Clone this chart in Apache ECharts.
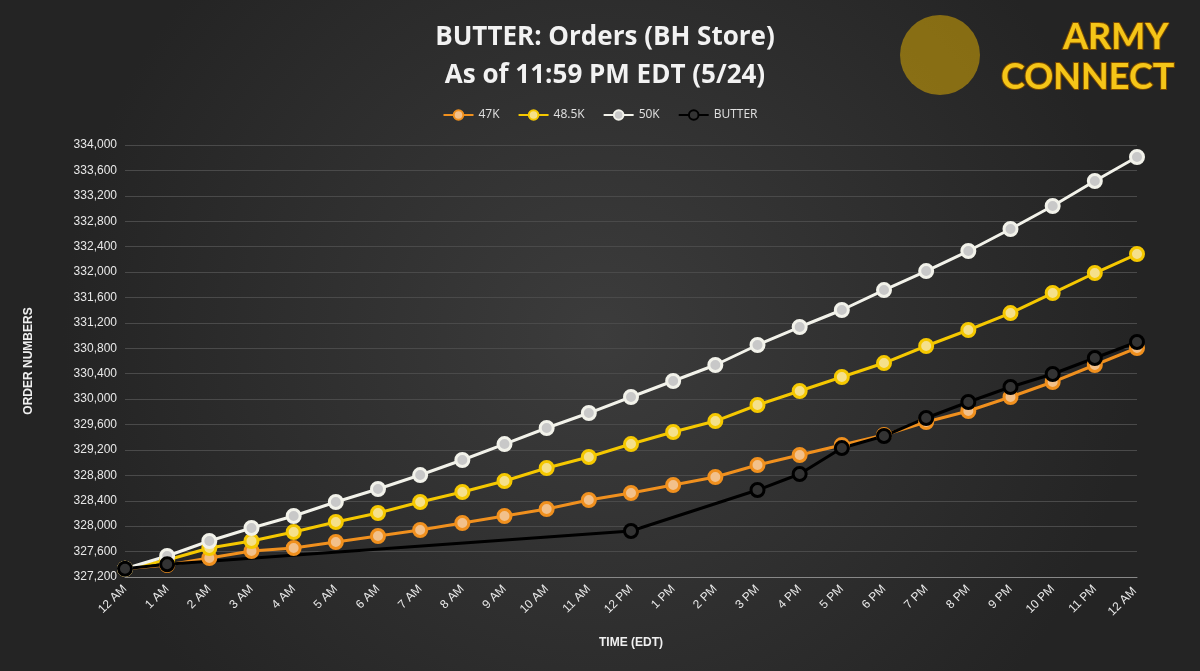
<!DOCTYPE html>
<html><head><meta charset="utf-8">
<script src="https://cdn.jsdelivr.net/npm/echarts@6/dist/echarts.min.js"></script>
<style>html,body{margin:0;padding:0;background:#2b2b2b}#c{width:1200px;height:671px}</style>
</head><body><div id="c"></div>
<script>
const categories=['12 AM','1 AM','2 AM','3 AM','4 AM','5 AM','6 AM','7 AM','8 AM','9 AM','10 AM','11 AM','12 PM','1 PM','2 PM','3 PM','4 PM','5 PM','6 PM','7 PM','8 PM','9 PM','10 PM','11 PM','12 AM '];
const s47=[327330,327389,327499,327609,327656,327751,327845,327940,328050,328160,328270,328412,328522,328648,328774,328963,329120,329278,329435,329640,329813,330033,330269,330537,330805];
const s485=[327330,327468,327656,327767,327908,328066,328207,328381,328538,328711,328916,329089,329293,329482,329655,329907,330128,330348,330568,330836,331088,331355,331670,331985,332284];
const s50=[327330,327531,327767,327971,328160,328381,328585,328805,329042,329293,329545,329781,330033,330285,330537,330852,331135,331403,331717,332016,332331,332678,333040,333433,333811];
const butter=[327330,327400,null,null,null,null,null,null,null,null,null,null,327924,null,null,328569,328821,329230,329419,329703,329955,330191,330395,330647,330899];
const ch=echarts.init(document.getElementById('c'));
function ser(name,data,line,fill){return {name,type:'line',data,connectNulls:true,symbol:'circle',symbolSize:13,
 lineStyle:{color:line,width:3},itemStyle:{color:fill,borderColor:line,borderWidth:3},
 emphasis:{disabled:true}};}
ch.setOption({
 animation:false,
 backgroundColor:{type:'radial',x:0.5,y:0.5,r:0.8,colorStops:[{offset:0,color:'#3c3c3c'},{offset:1,color:'#242424'}]},
 title:{text:'BUTTER: Orders (BH Store)\nAs of 11:59 PM EDT (5/24)',left:600,top:14,textAlign:'center',
  textStyle:{color:'#f2f2f2',fontSize:26,fontWeight:'bold',fontFamily:'Open Sans',lineHeight:38}},
 graphic:[{type:'circle',shape:{cx:940,cy:55,r:40},style:{fill:'#e8b400',opacity:0.5}},
  {type:'text',left:1062,top:18,style:{text:'ARMY',fill:'#f5c518',font:'bold 36px Lato',stroke:'#7a4a00',lineWidth:2}},
  {type:'text',left:1000,top:58,style:{text:'CONNECT',fill:'#f5c518',font:'bold 36px Lato',stroke:'#7a4a00',lineWidth:2}}],
 legend:{top:104,left:'center',itemWidth:30,itemHeight:12,itemGap:18,
  textStyle:{color:'#e0e0e0',fontSize:12,fontFamily:'Open Sans'},data:['47K','48.5K','50K','BUTTER']},
 grid:{left:125,right:63,top:145,bottom:94},
 xAxis:{type:'category',data:categories,boundaryGap:false,name:'TIME (EDT)',nameLocation:'middle',nameGap:60,
  nameTextStyle:{color:'#f0f0f0',fontWeight:'bold',fontSize:12},
  axisLine:{lineStyle:{color:'#888'}},axisTick:{show:false},
  axisLabel:{color:'#e8e8e8',rotate:45,fontSize:12,interval:0,margin:10},splitLine:{show:false}},
 yAxis:{type:'value',min:327200,max:334000,interval:400,name:'ORDER NUMBERS',nameLocation:'middle',nameGap:90,
  nameTextStyle:{color:'#f0f0f0',fontWeight:'bold',fontSize:12},
  axisLabel:{color:'#e8e8e8',fontSize:12,formatter:v=>v.toLocaleString('en-US')},
  axisLine:{show:false},axisTick:{show:false},splitLine:{lineStyle:{color:'#4a4a4a'}}},
 series:[ser('47K',s47,'#f0901e','#f2c08a'),ser('48.5K',s485,'#f5c800','#f5e08a'),
  ser('50K',s50,'#f2f2ea','#c8c8c8'),ser('BUTTER',butter,'#000000','#333333')]
});
</script></body></html>
